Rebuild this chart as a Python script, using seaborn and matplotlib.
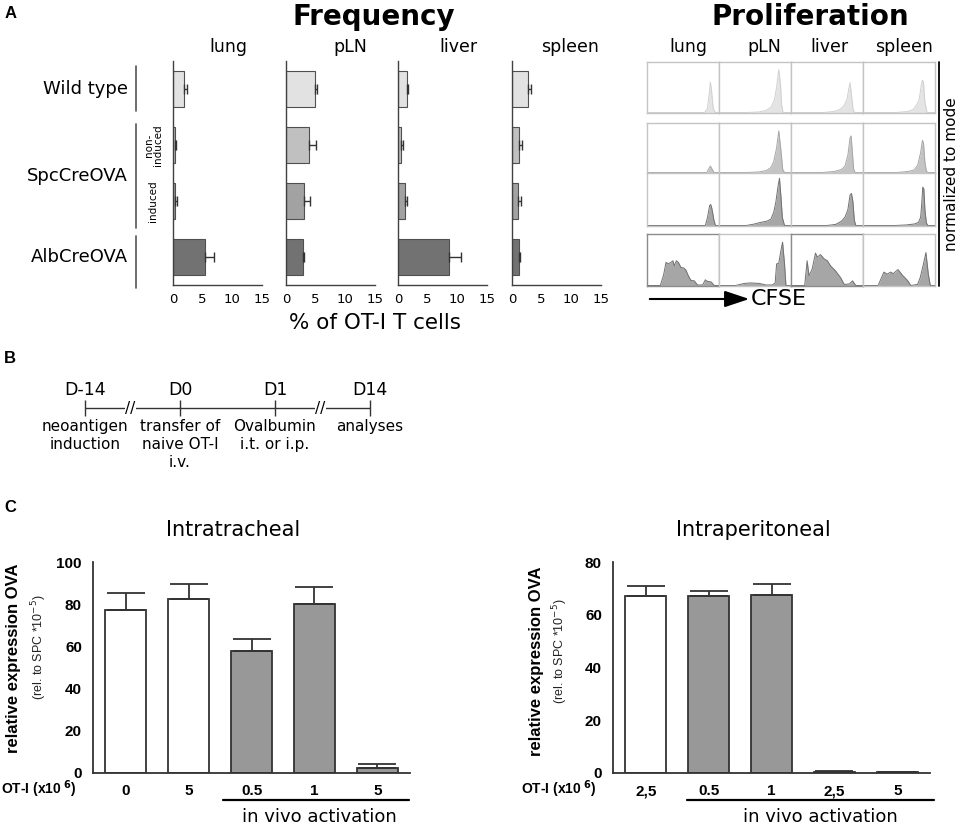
import matplotlib
matplotlib.use("Agg")
import matplotlib.pyplot as plt
from matplotlib.lines import Line2D
from matplotlib.patches import FancyArrowPatch
import seaborn as sns

# ---------------- data ----------------
# panel A, frequency of OT-I T cells (%), mean and upper SEM
organs = ["lung", "pLN", "liver", "spleen"]
mouse_groups = ["Wild type", "non-induced", "induced", "AlbCreOVA"]
group_colors = ["#e2e2e2", "#c0c0c0", "#a2a2a2", "#727272"]

freq_lung = [1.8, 0.4, 0.4, 5.4]
freq_lung_err = [0.6, 0.1, 0.2, 1.5]
freq_pln = [4.9, 3.85, 3.1, 2.85]
freq_pln_err = [0.3, 1.25, 1.0, 0.25]
freq_liver = [1.55, 0.55, 1.1, 8.65]
freq_liver_err = [0.15, 0.25, 0.45, 1.95]
freq_spleen = [2.66, 1.23, 1.0, 1.16]
freq_spleen_err = [0.55, 0.47, 0.57, 0.27]
freq_ticks = [0, 5, 10, 15]

# panel A, CFSE histograms (normalized to mode), outline points per organ
prolif_wt = [
    ([0, 0.80, 0.84, 0.87, 0.88, 0.895, 0.92, 0.95, 1],
     [0, 0, 0.08, 0.45, 0.60, 0.45, 0.08, 0, 0]),
    ([0, 0.38, 0.55, 0.65, 0.72, 0.77, 0.80, 0.83, 0.855, 0.87, 0.89, 1],
     [0, 0, 0.01, 0.04, 0.10, 0.25, 0.50, 0.85, 0.55, 0.15, 0, 0]),
    ([0, 0.45, 0.60, 0.68, 0.74, 0.78, 0.80, 0.82, 0.84, 0.86, 0.88, 1],
     [0, 0, 0.02, 0.06, 0.14, 0.28, 0.45, 0.59, 0.35, 0.08, 0, 0]),
    ([0, 0.46, 0.62, 0.70, 0.74, 0.78, 0.81, 0.825, 0.84, 0.86, 0.89, 1],
     [0, 0, 0.02, 0.06, 0.14, 0.25, 0.55, 0.64, 0.60, 0.20, 0, 0]),
]
prolif_noninduced = [
    ([0, 0.83, 0.86, 0.88, 0.90, 0.93, 1],
     [0, 0, 0.08, 0.13, 0.08, 0, 0]),
    ([0, 0.38, 0.55, 0.66, 0.72, 0.76, 0.80, 0.83, 0.86, 0.885, 0.91, 1],
     [0, 0, 0.01, 0.04, 0.10, 0.22, 0.50, 0.84, 0.45, 0.06, 0, 0]),
    ([0, 0.43, 0.60, 0.70, 0.75, 0.79, 0.82, 0.835, 0.85, 0.87, 0.89, 1],
     [0, 0, 0.02, 0.06, 0.13, 0.35, 0.70, 0.74, 0.45, 0.07, 0, 0]),
    ([0, 0.47, 0.62, 0.71, 0.76, 0.80, 0.825, 0.84, 0.86, 0.88, 0.90, 1],
     [0, 0, 0.02, 0.05, 0.15, 0.40, 0.65, 0.60, 0.20, 0.03, 0, 0]),
]
prolif_induced = [
    ([0, 0.81, 0.84, 0.87, 0.885, 0.90, 0.93, 0.95, 1],
     [0, 0, 0.15, 0.38, 0.40, 0.33, 0.10, 0, 0]),
    ([0, 0.38, 0.50, 0.58, 0.66, 0.72, 0.76, 0.79, 0.82, 0.84, 0.86, 0.88, 0.91, 1],
     [0, 0, 0.03, 0.06, 0.08, 0.12, 0.25, 0.45, 0.75, 0.90, 0.55, 0.15, 0, 0]),
    ([0, 0.50, 0.62, 0.70, 0.75, 0.79, 0.82, 0.84, 0.86, 0.88, 0.90, 1],
     [0, 0, 0.02, 0.08, 0.16, 0.30, 0.58, 0.61, 0.45, 0.10, 0, 0]),
    ([0, 0.45, 0.60, 0.72, 0.77, 0.80, 0.815, 0.83, 0.845, 0.86, 0.88, 0.90, 1],
     [0, 0, 0.01, 0.03, 0.06, 0.15, 0.40, 0.73, 0.70, 0.30, 0.05, 0, 0]),
]
prolif_alb = [
    ([0, 0.185, 0.23, 0.264, 0.296, 0.333, 0.36, 0.38, 0.407, 0.435, 0.472, 0.51,
      0.54, 0.574, 0.61, 0.657, 0.70, 0.773, 0.81, 0.84, 0.89, 0.935, 1],
     [0, 0, 0.20, 0.45, 0.42, 0.45, 0.48, 0.38, 0.48, 0.45, 0.35, 0.34,
      0.30, 0.19, 0.10, 0.09, 0.01, 0.01, 0.11, 0.08, 0.07, 0, 0]),
    ([0, 0.23, 0.35, 0.44, 0.56, 0.65, 0.74, 0.78, 0.80, 0.83, 0.86, 0.883, 0.91, 0.93, 1],
     [0, 0, 0.04, 0.05, 0.04, 0.01, 0.01, 0.05, 0.42, 0.43, 0.68, 0.84, 0.42, 0, 0]),
    ([0, 0.19, 0.224, 0.25, 0.294, 0.34, 0.364, 0.41, 0.458, 0.505, 0.55, 0.62,
      0.69, 0.74, 0.81, 0.855, 0.90, 1],
     [0, 0, 0.48, 0.19, 0.32, 0.63, 0.55, 0.60, 0.52, 0.48, 0.38, 0.28,
      0.15, 0.02, 0.03, 0.09, 0, 0]),
    ([0, 0.21, 0.29, 0.336, 0.383, 0.42, 0.486, 0.547, 0.617, 0.664, 0.757, 0.794,
      0.84, 0.874, 0.907, 0.935, 1],
     [0, 0, 0.26, 0.22, 0.26, 0.23, 0.31, 0.20, 0.10, 0.0, 0.02, 0.15,
      0.42, 0.64, 0.22, 0, 0]),
]
prolif_fill = ["#e4e4e4", "#c4c4c4", "#a6a6a6", "#a6a6a6"]
prolif_edge = ["#d0d0d0", "#a6a6a6", "#707070", "#707070"]

# panel B, timeline
timeline_days = ["D-14", "D0", "D1", "D14"]
timeline_events = ["neoantigen\ninduction", "transfer of\nnaive OT-I\ni.v.",
                   "Ovalbumin\ni.t. or i.p.", "analyses"]

# panel C, relative OVA expression
it_labels = ["0", "5", "0.5", "1", "5"]
it_mean = [77.4, 82.6, 57.8, 80.3, 2.5]
it_err = [7.9, 6.8, 5.9, 7.9, 1.6]
it_colors = ["white", "white", "#989898", "#989898", "#989898"]

ip_labels = ["2,5", "0.5", "1", "2,5", "5"]
ip_mean = [67.1, 67.1, 67.5, 0.4, 0.2]
ip_err = [3.7, 1.8, 4.0, 0.35, 0.1]
ip_colors = ["white", "#989898", "#989898", "#989898", "#989898"]

# ---------------- figure ----------------
sns.set_style("white")
plt.rcParams["font.family"] = ["DejaVu Sans"]
plt.rcParams["text.color"] = "black"
plt.rcParams["axes.labelcolor"] = "black"
plt.rcParams["xtick.color"] = "black"
plt.rcParams["ytick.color"] = "black"

W, H = 959, 826
fig = plt.figure(figsize=(W / 100, H / 100), dpi=100)


def px_axes(x0, y0, x1, y1):
    return fig.add_axes([x0 / W, 1 - y1 / H, (x1 - x0) / W, (y1 - y0) / H])


def ftext(x, y, s, **kw):
    kw.setdefault("ha", "center")
    kw.setdefault("va", "center")
    return fig.text(x / W, 1 - y / H, s, **kw)


# ---- A: frequency ----
ftext(11, 13, "A", fontsize=12, fontweight="bold", family="Liberation Sans")
ftext(374, 17, "Frequency", fontsize=20, fontweight="bold")

freq_vals = [freq_lung, freq_pln, freq_liver, freq_spleen]
freq_errs = [freq_lung_err, freq_pln_err, freq_liver_err, freq_spleen_err]
freq_left = [173, 286, 398, 512]
freq_title_x = [228, 350, 458, 570]

for i, organ in enumerate(organs):
    ax = px_axes(freq_left[i], 61, freq_left[i] + 89, 285)
    sns.barplot(x=freq_vals[i], y=mouse_groups, hue=mouse_groups, palette=group_colors,
                orient="h", width=0.66, edgecolor="#505050", linewidth=0.8,
                errorbar=None, legend=False, dodge=False, ax=ax)
    ax.errorbar(freq_vals[i], range(4), xerr=[[0] * 4, freq_errs[i]], fmt="none",
                ecolor="#333333", elinewidth=1, capsize=3.5, capthick=1)
    ax.set_xlim(0, 15)
    ax.set_ylim(3.5, -0.5)
    ax.set_xticks(freq_ticks)
    ax.set_yticks(range(4))
    ax.set_yticklabels([])
    ax.set_xlabel("")
    ax.set_ylabel("")
    sns.despine(ax=ax)
    for sp in ["left", "bottom"]:
        ax.spines[sp].set_color("#404040")
        ax.spines[sp].set_linewidth(1)
    ax.tick_params(axis="x", length=4, width=0.8, color="#404040", labelsize=9.5, pad=2)
    ax.tick_params(axis="y", length=5, width=0.8, color="#404040")
    ftext(freq_title_x[i], 47, organ, fontsize=12.5)

    if i == 0:
        ytr = ax.get_yaxis_transform()
        for y0, y1 in [(-0.41, 0.39), (0.62, 2.48), (2.62, 3.55)]:
            ax.plot([-0.418, -0.418], [y0, y1], color="#555555", lw=1.2,
                    transform=ytr, clip_on=False)
        ax.text(-0.505, 0, "Wild type", transform=ytr, ha="right", va="center", fontsize=13)
        ax.text(-0.505, 1.55, "SpcCreOVA", transform=ytr, ha="right", va="center", fontsize=13)
        ax.text(-0.505, 3, "AlbCreOVA", transform=ytr, ha="right", va="center", fontsize=13)
        ax.text(-0.22, 1, "non-\ninduced", transform=ytr, ha="center", va="center",
                rotation=90, fontsize=7.5, linespacing=0.9)
        ax.text(-0.23, 2, "induced", transform=ytr, ha="center", va="center",
                rotation=90, fontsize=7.5)

ftext(375, 323, "% of OT-I T cells", fontsize=15.5)

# ---- A: proliferation ----
ftext(810, 17, "Proliferation", fontsize=20, fontweight="bold")
prolif_cols = [647, 719, 791, 863, 935]
prolif_rows = [(62, 113), (123, 173), (173, 226), (234, 286)]
prolif_title_x = [688, 764, 829, 904]
prolif_data = [prolif_wt, prolif_noninduced, prolif_induced, prolif_alb]

for r, row in enumerate(prolif_data):
    for c in range(4):
        ax = px_axes(prolif_cols[c], prolif_rows[r][0], prolif_cols[c + 1], prolif_rows[r][1])
        xs, ys = row[c]
        ax.fill_between(xs, ys, color=prolif_fill[r], lw=0)
        sns.lineplot(x=xs, y=ys, color=prolif_edge[r], lw=0.7, ax=ax)
        ax.set_xlim(0, 1)
        ax.set_ylim(-0.01, 1)
        ax.set_xticks([])
        ax.set_yticks([])
        dark = r == 3 and c in (0, 2)
        for sp in ax.spines.values():
            sp.set_visible(True)
            sp.set_color("#8c8c8c" if dark else "#c4c4c4")
            sp.set_linewidth(1.0)

for c, organ in enumerate(organs):
    ftext(prolif_title_x[c], 47, organ, fontsize=12.5)

fig.add_artist(Line2D([939 / W, 939 / W], [1 - 62 / H, 1 - 286 / H], color="black", lw=1.3))
ftext(951, 174, "normalized to mode", rotation=90, fontsize=11)
fig.add_artist(FancyArrowPatch((647 / W, 1 - 299 / H), (752 / W, 1 - 299 / H),
                               transform=fig.transFigure, color="black", lw=1.5,
                               arrowstyle="-|>,head_length=1.5,head_width=0.5",
                               mutation_scale=10))
ftext(751, 299, "CFSE", fontsize=16, ha="left")

# ---- B: timeline ----
ftext(10, 358, "B", fontsize=12, fontweight="bold", family="Liberation Sans")
axb = px_axes(85, 388, 370, 428)
pos = list(range(len(timeline_days)))
axb.plot([pos[0], pos[-1]], [0, 0], color="#333333", lw=1)
axb.plot(pos, [0] * len(pos), ls="none", marker="|", ms=11, mew=1, color="#333333", clip_on=False)
for p, day, ev in zip(pos, timeline_days, timeline_events):
    axb.annotate(day, (p, 0), xytext=(0, 13), textcoords="offset points",
                 ha="center", va="center", fontsize=12.5)
    axb.annotate(ev, (p, 0), xytext=(0, -8), textcoords="offset points",
                 ha="center", va="top", fontsize=11, linespacing=1.25)
for p in [0.5, 2.5]:
    axb.text(p - 0.02, 0, "//", ha="center", va="center", fontsize=11,
             bbox=dict(fc="white", ec="none", pad=0))
axb.set_xlim(0, 3)
axb.set_ylim(-1, 1)
axb.axis("off")

# ---- C: relative expression ----
ftext(10, 507, "C", fontsize=12, fontweight="bold", family="Liberation Sans")


def expr_chart(x0, labels, means, errs, colors, ymax, title, line_span, act_x):
    ax = px_axes(x0, 562, x0 + 317, 773)
    xpos = list(range(len(means)))
    keys = [str(p) for p in xpos]
    sns.barplot(x=xpos, y=means, hue=keys, palette=colors, width=0.66,
                edgecolor="#333333", linewidth=1.3, errorbar=None,
                legend=False, dodge=False, ax=ax)
    ax.errorbar(xpos, means, yerr=[[0] * len(errs), errs], fmt="none",
                ecolor="#333333", elinewidth=1.3, capsize=14, capthick=1.3)
    ax.set_xlim(-0.52, 4.52)
    ax.set_ylim(0, ymax)
    ax.set_yticks(range(0, ymax + 1, 20))
    ax.set_xticks(xpos)
    ax.set_xticklabels(labels)
    ax.set_xlabel("")
    ax.set_ylabel("")
    sns.despine(ax=ax)
    for sp in ["left", "bottom"]:
        ax.spines[sp].set_color("#333333")
        ax.spines[sp].set_linewidth(1.3)
    ax.tick_params(length=5, width=1.3, color="#333333", labelsize=11, pad=3)
    for lab in ax.get_xticklabels() + ax.get_yticklabels():
        lab.set_fontweight("bold")
        lab.set_family("Liberation Sans")
    xtr = ax.get_xaxis_transform()
    ax.plot(line_span, [-0.128, -0.128], color="black", lw=1.6,
            transform=xtr, clip_on=False)
    ax.text(act_x, -0.21, "in vivo activation", transform=xtr, ha="center",
            va="center", fontsize=13)
    ftext(x0 + 140, 530, title, fontsize=15)
    return ax


expr_chart(93, it_labels, it_mean, it_err, it_colors, 100, "Intratracheal", [1.55, 4.5], 3.08)
expr_chart(613, ip_labels, ip_mean, ip_err, ip_colors, 80, "Intraperitoneal", [0.65, 4.58], 2.78)

for xm, xs, ym, ys, xo in [(14, 39, 658, 647, 77), (536, 560, 661, 651, 597)]:
    ftext(xm, ym, "relative expression OVA", rotation=90, fontsize=12,
          fontweight="bold", family="Liberation Sans")
    ftext(xs, ys, r"(rel. to SPC *10$^{-5}$)", rotation=90, fontsize=9,
          family="Liberation Sans", color="#222222")
    ftext(xo, 789, r"OT-I (x10$^{\ \mathbf{6}}$)", ha="right", fontsize=10,
          fontweight="bold", family="Liberation Sans")

fig.savefig("out.png", dpi=100, facecolor="white")
